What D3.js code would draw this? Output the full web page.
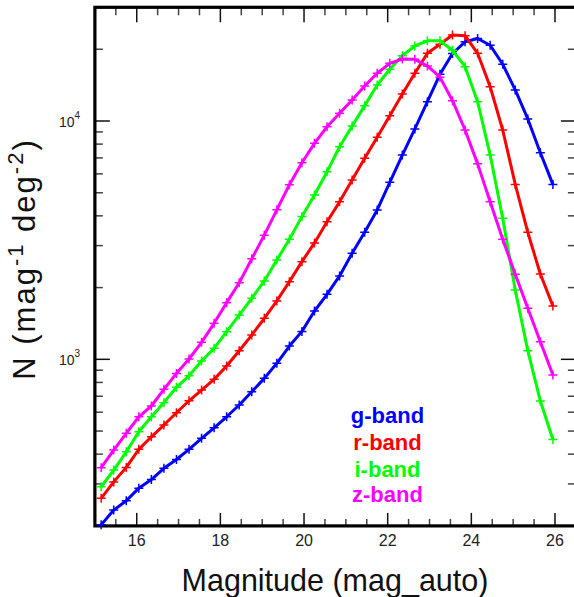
<!DOCTYPE html>
<html>
<head>
<meta charset="utf-8">
<script src="https://cdn.jsdelivr.net/npm/d3@7"></script>
<style>
  body { margin: 0; background: #fff; }
  svg { display: block; font-family: "Liberation Sans", Arial, sans-serif; }
</style>
</head>
<body>
<div id="chart"></div>
<script>
// bin centres (mag)
var mags = [15.15, 15.45, 15.75, 16.05, 16.35, 16.65, 16.95, 17.25, 17.55, 17.85,
            18.15, 18.45, 18.75, 19.05, 19.35, 19.65, 19.95, 20.25, 20.55, 20.85,
            21.15, 21.45, 21.75, 22.05, 22.35, 22.65, 22.95, 23.25, 23.55, 23.85,
            24.15, 24.45, 24.75, 25.05, 25.35, 25.65, 25.95];

var gBand = [202, 233, 255, 288, 313, 349, 380, 419, 466, 516,
             574, 643, 731, 832, 962, 1137, 1310, 1595, 1874, 2238,
             2787, 3412, 4233, 5530, 7200, 9260, 12050, 15700, 19200, 21500,
             22200, 20800, 17300, 13500, 10200, 7360, 5420];
var rBand = [261, 306, 352, 419, 473, 530, 597, 670, 743, 824,
             938, 1087, 1264, 1486, 1758, 2118, 2570, 3080, 3780, 4580,
             5650, 6970, 8550, 10520, 12980, 15850, 19240, 21000, 22950, 22800,
             19240, 13930, 9170, 5420, 3410, 2280, 1675];
var iBand = [292, 343, 409, 497, 574, 658, 763, 853, 984, 1112,
             1306, 1534, 1803, 2133, 2610, 3190, 3970, 4890, 6120, 7800,
             9530, 11600, 14160, 16480, 18800, 20650, 21700, 21700, 19800, 16900,
             12050, 7200, 3910, 1954, 1087, 668, 461];
var zBand = [351, 416, 489, 574, 637, 748, 873, 1003, 1178, 1416,
             1729, 2096, 2640, 3320, 4240, 5400, 6680, 8060, 9460, 10770,
             12240, 14020, 15860, 17460, 18200, 18150, 17020, 15280, 12170, 9170,
             6610, 4580, 3190, 2275, 1637, 1185, 859];

var bandNames = ["g-band", "r-band", "i-band", "z-band"];
var bandColors = ["#0000ff", "#ff0000", "#00ff00", "#ff00ff"];
var bandValues = [gBand, rBand, iBand, zBand];

var xMajor = [16, 18, 20, 22, 24, 26];
var yMajor = [1000, 10000];
var yLabels = ["3", "4"];

var w = 574, h = 597;
var pLeft = 94.9, pRight = 575.9, pTop = 7.3, pBottom = 525.9;

var svg = d3.select("#chart").append("svg")
    .attr("width", w)
    .attr("height", h);

var x = d3.scaleLinear().domain([15, 26.5]).range([pLeft, pRight]);
var y = d3.scaleLog().domain([200, 30000]).range([pBottom, pTop]);

// minor ticks every 0.5 mag, minor log ticks 2..9
var xMinor = d3.range(15, 26.51, 0.5).filter(d => xMajor.indexOf(d) < 0);
var yMinor = [];
[100, 1000, 10000].forEach(function(dec) {
	for (var k = 2; k <= 9; k++) {
		var v = k * dec;
		if (v >= 200 && v <= 30000) yMinor.push(v);
	}
});

var axes = svg.append("g").attr("class", "axes");

// x ticks (bottom + top)
axes.selectAll(".xmaj")
    .data(xMajor).enter().append("line")
    .attr("x1", d => x(d)).attr("x2", d => x(d))
    .attr("y1", pBottom).attr("y2", pBottom - 13)
    .attr("stroke", "#111").attr("stroke-width", 1.5);
axes.selectAll(".xmin")
    .data(xMinor).enter().append("line")
    .attr("x1", d => x(d)).attr("x2", d => x(d))
    .attr("y1", pBottom).attr("y2", pBottom - 7)
    .attr("stroke", "#444").attr("stroke-width", 1.5);
axes.selectAll(".xmajt")
    .data(xMajor).enter().append("line")
    .attr("x1", d => x(d)).attr("x2", d => x(d))
    .attr("y1", pTop).attr("y2", pTop + 15)
    .attr("stroke", "#111").attr("stroke-width", 1.5);
axes.selectAll(".xmint")
    .data(xMinor).enter().append("line")
    .attr("x1", d => x(d)).attr("x2", d => x(d))
    .attr("y1", pTop).attr("y2", pTop + 8)
    .attr("stroke", "#444").attr("stroke-width", 1.5);

// y ticks (left + right)
[[pLeft, 1], [pRight, -1]].forEach(function(side) {
	axes.selectAll(null)
	    .data(yMajor).enter().append("line")
	    .attr("x1", side[0]).attr("x2", side[0] + side[1] * 15)
	    .attr("y1", d => y(d)).attr("y2", d => y(d))
	    .attr("stroke", "#111").attr("stroke-width", 1.5);
	axes.selectAll(null)
	    .data(yMinor).enter().append("line")
	    .attr("x1", side[0]).attr("x2", side[0] + side[1] * 8)
	    .attr("y1", d => y(d)).attr("y2", d => y(d))
	    .attr("stroke", "#444").attr("stroke-width", 1.5);
});

// frame
axes.append("rect")
    .attr("x", pLeft).attr("y", pTop)
    .attr("width", pRight - pLeft).attr("height", pBottom - pTop)
    .attr("fill", "none")
    .attr("stroke", "#000")
    .attr("stroke-width", 3.2);

// tick labels
svg.selectAll(".xlab")
    .data(xMajor).enter().append("text")
    .attr("x", d => x(d)).attr("y", 546)
    .attr("text-anchor", "middle")
    .attr("font-size", 16)
    .attr("fill", "#222")
    .text(d => d);

var yl = svg.selectAll(".ylab")
    .data(yMajor).enter().append("text")
    .attr("x", 59).attr("y", d => y(d) + 6)
    .attr("font-size", 14)
    .attr("fill", "#222");
yl.append("tspan").text("10");
yl.append("tspan").attr("dy", -8).attr("font-size", 10).text((d, i) => yLabels[i]);

// curves
var line = d3.line()
    .x((d, i) => x(mags[i]))
    .y(d => y(d));

var series = svg.append("g").attr("class", "series");
bandValues.forEach(function(vals, k) {
	series.append("path")
	    .datum(vals)
	    .attr("d", line)
	    .attr("fill", "none")
	    .attr("stroke", bandColors[k])
	    .attr("stroke-width", 3)
	    .attr("stroke-linejoin", "round");
	series.selectAll(null)
	    .data(vals).enter().append("path")
	    .attr("d", (d, i) => {
	    	var px = x(mags[i]), py = y(d);
	    	return "M" + (px - 4.5) + "," + py + "H" + (px + 4.5) +
	    	       "M" + px + "," + (py - 4.5) + "V" + (py + 4.5);
	    })
	    .attr("stroke", bandColors[k])
	    .attr("stroke-width", 1.5)
	    .attr("fill", "none");
});

// legend
svg.selectAll(".legend")
    .data(bandNames).enter().append("text")
    .attr("x", 387.5)
    .attr("y", (d, i) => [423, 449.5, 477, 502][i])
    .attr("text-anchor", "middle")
    .attr("font-size", 22)
    .attr("font-weight", "bold")
    .attr("fill", (d, i) => bandColors[i])
    .text(d => d);

// axis titles
svg.append("text")
    .attr("x", 335).attr("y", 591)
    .attr("text-anchor", "middle")
    .attr("font-size", 30.5)
    .attr("fill", "#111")
    .text("Magnitude (mag_auto)");

var yt = svg.append("text")
    .attr("transform", "translate(35,259) rotate(-90)")
    .attr("text-anchor", "middle")
    .attr("font-size", 31)
    .attr("letter-spacing", 2)
    .attr("fill", "#111");
yt.append("tspan").text("N (mag");
yt.append("tspan").attr("dy", -12).attr("font-size", 22).text("-1");
yt.append("tspan").attr("dy", 12).text(" deg");
yt.append("tspan").attr("dy", -12).attr("font-size", 22).text("-2");
yt.append("tspan").attr("dy", 12).text(")");
</script>
</body>
</html>
